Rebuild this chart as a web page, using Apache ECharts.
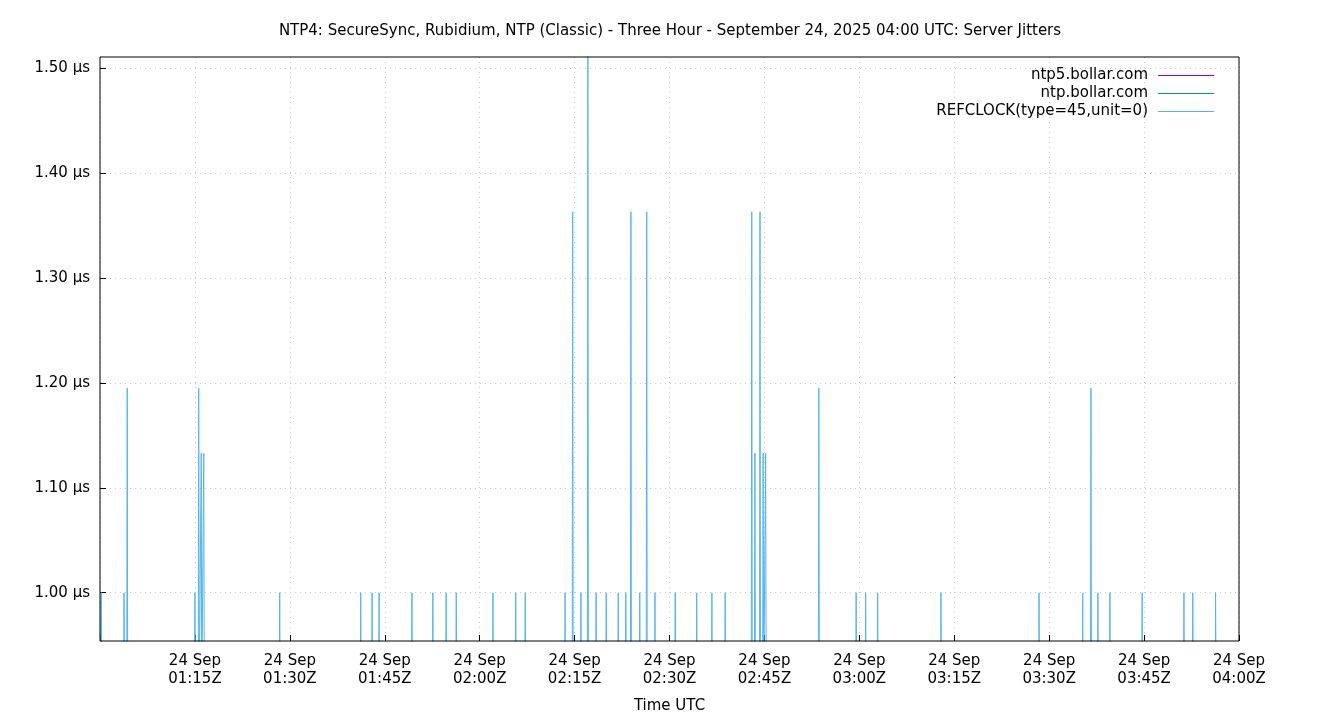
<!DOCTYPE html>
<html>
<head>
<meta charset="utf-8">
<script src="https://cdn.jsdelivr.net/npm/echarts@6/dist/echarts.min.js"></script>
<style>html,body{margin:0;padding:0;background:#fff}#c{width:1340px;height:720px}</style>
</head>
<body>
<div id="c"></div>
<script>
// minutes after 01:00Z where REFCLOCK jitter spikes, and the spike heights (µs)
var spikeMinutes = [0.2, 3.8, 4.3, 15.0, 15.6, 16.0, 16.4, 28.4, 41.2, 43.0, 44.1, 49.3, 52.6, 54.7, 56.3,
	62.1, 65.7, 67.2, 73.5, 74.7, 76.0, 77.1, 78.4, 80.0, 81.9, 83.1, 83.9, 85.3, 86.4, 87.7, 90.9, 94.3,
	96.7, 98.8, 103.0, 103.5, 104.3, 104.8, 105.2, 113.6, 119.5, 121.0, 122.9, 132.9, 148.4, 155.3, 156.6,
	157.7, 159.6, 164.7, 171.3, 172.7, 176.3];
var spikeValues = [1.00, 1.00, 1.195, 1.00, 1.195, 1.133, 1.133, 1.00, 1.00, 1.00, 1.00, 1.00, 1.00, 1.00, 1.00,
	1.00, 1.00, 1.00, 1.00, 1.363, 1.00, 1.56, 1.00, 1.00, 1.00, 1.00, 1.363, 1.00, 1.363, 1.00, 1.00, 1.00,
	1.00, 1.00, 1.363, 1.133, 1.363, 1.133, 1.133, 1.195, 1.00, 1.00, 1.00, 1.00, 1.00, 1.00, 1.195,
	1.00, 1.00, 1.00, 1.00, 1.00, 1.00];
var baseline = 0.90;
var yTicks = [1.0, 1.1, 1.2, 1.3, 1.4, 1.5];
var seriesNames = ['ntp5.bollar.com', 'ntp.bollar.com', 'REFCLOCK(type=45,unit=0)'];
var seriesColors = ['#9400d3', '#009e73', '#56b4e9'];

function clock(m)
{
	var t = 60 + m;
	var h = Math.floor(t / 60), mm = Math.round(t % 60);
	return (h < 10 ? '0' : '') + h + ':' + (mm < 10 ? '0' : '') + mm + 'Z';
}

var refData = [[0, baseline]];
for (var i = 0; i < spikeMinutes.length; i++)
{
	refData.push([Math.max(0, spikeMinutes[i] - 0.08), baseline]);
	refData.push([spikeMinutes[i], spikeValues[i]]);
	refData.push([spikeMinutes[i] + 0.08, baseline]);
}
refData.push([180, baseline]);
var flat = [[0, baseline], [180, baseline]];

var chart = echarts.init(document.getElementById('c'));
var font = 'DejaVu Sans';
var grid = { lineStyle: { color: '#c8c8c8', type: [1, 4] } };
chart.setOption({
	animation: false,
	textStyle: { fontFamily: font },
	title:
	{
		text: 'NTP4: SecureSync, Rubidium, NTP (Classic) - Three Hour - September 24, 2025 04:00 UTC: Server Jitters',
		left: 'center', top: 19,
		textStyle: { fontSize: 15, fontWeight: 'normal', color: '#000', fontFamily: font }
	},
	legend:
	{
		orient: 'vertical', right: 121, top: 63, align: 'right',
		itemWidth: 56, itemHeight: 1, itemGap: 3, icon: 'rect',
		textStyle: { fontSize: 15, color: '#000', fontFamily: font, padding: [0, 5, 0, 0] },
		data: seriesNames
	},
	grid: { left: 100, right: 101, top: 57, bottom: 79 },
	xAxis:
	{
		type: 'value', min: 0, max: 180, interval: 15,
		name: 'Time UTC', nameLocation: 'middle', nameGap: 58,
		nameTextStyle: { fontSize: 15, color: '#000' },
		axisLine: { show: false },
		axisTick: { inside: true, length: 6, lineStyle: { color: '#000' } },
		axisLabel: {
			fontSize: 15, color: '#000', lineHeight: 18, margin: 11,
			formatter: function(v) { return v === 0 ? '' : '24 Sep\n' + clock(v); }
		},
		splitLine: { show: true, lineStyle: grid.lineStyle }
	},
	yAxis:
	{
		type: 'value', min: 0.954, max: 1.5105,
		axisLine: { show: false },
		axisTick: { inside: true, length: 6, customValues: yTicks, lineStyle: { color: '#000' } },
		axisLabel: {
			fontSize: 15, color: '#000', margin: 10, customValues: yTicks,
			formatter: function(v) { return v.toFixed(2) + ' µs'; }
		},
		splitLine: { show: true, lineStyle: grid.lineStyle }
	},
	graphic: [{
		type: 'rect', shape: { x: 100, y: 57, width: 1139, height: 584 },
		style: { fill: 'none', stroke: '#000', lineWidth: 1 }, z: 100, silent: true
	}],
	series: [
		{ name: seriesNames[0], type: 'line', data: flat, symbol: 'none', clip: true,
		  lineStyle: { width: 1, color: seriesColors[0] }, itemStyle: { color: seriesColors[0] } },
		{ name: seriesNames[1], type: 'line', data: flat, symbol: 'none', clip: true,
		  lineStyle: { width: 1, color: seriesColors[1] }, itemStyle: { color: seriesColors[1] } },
		{ name: seriesNames[2], type: 'line', data: refData, symbol: 'none', clip: true,
		  lineStyle: { width: 1, color: seriesColors[2] }, itemStyle: { color: seriesColors[2] } }
	]
});
</script>
</body>
</html>
